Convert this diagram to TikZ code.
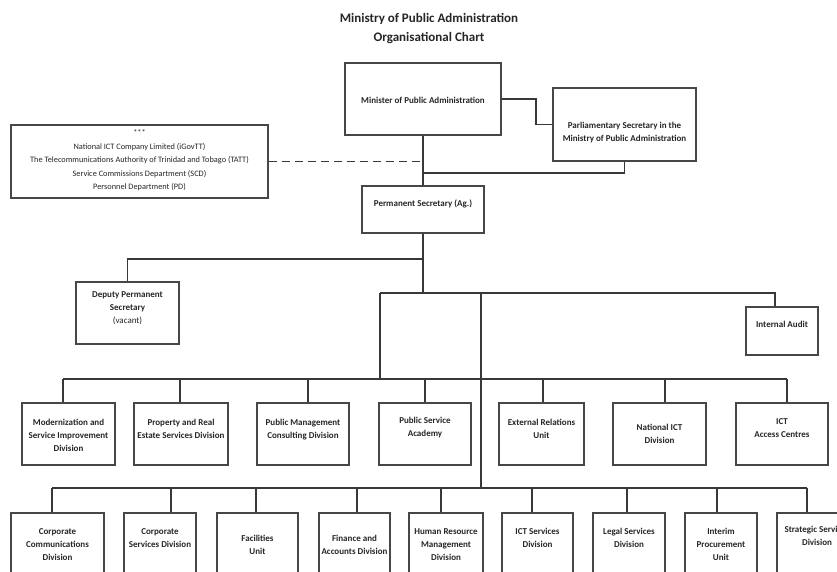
\documentclass[tikz,border=0pt]{standalone}
\usepackage{fontspec}
\setmainfont{Carlito}
\newcommand\obox[4]{\parbox[c][#2pt][t]{#1pt}{\centering\vspace*{#3pt}\makebox[0pt]{\begin{tabular}[t]{@{}c@{}}#4\end{tabular}}\par}}
\begin{document}
\begin{tikzpicture}[x=1pt,y=-1pt,
  line/.style={draw=black!78, line width=1.5pt},
  box/.style={draw=black!72, line width=1.5pt, inner sep=0pt, font=\fontsize{9}{13}\selectfont\bfseries, text=black!85},
  govbox/.style={box, font=\fontsize{8.3}{13.5}\selectfont\mdseries},
  titletext/.style={font=\fontsize{13}{19}\selectfont\bfseries, align=center, text=black!85}]
\fill[white] (0,0) rectangle (837,572);
\useasboundingbox (0,0) rectangle (837,572);

\node[titletext] (title) at (429,28.5) {Ministry of Public Administration\\Organisational Chart};

\node[box] (min) at (423,99) {\obox{156}{72}{31}{Minister of Public Administration}};
\node[box] (parl) at (624.5,124.5) {\obox{143}{73}{31}{Parliamentary Secretary in the\\Ministry of Public Administration}};
\node[govbox] (gov) at (139.5,161.5) {\obox{257}{73}{1.5}{***\\National ICT Company Limited (iGovTT)\\The Telecommunications Authority of Trinidad and Tobago (TATT)\\Service Commissions Department (SCD)\\Personnel Department (PD)}};
\node[box] (ps) at (423,209.5) {\obox{122}{47}{11}{Permanent Secretary (Ag.)}};
\node[box] (dep) at (127.5,313) {\obox{103}{62}{6}{Deputy Permanent\\Secretary\\{\mdseries (vacant)}}};
\node[box] (ia) at (782,331) {\obox{72}{48}{11}{Internal Audit}};

\node[box] (mod) at (68.5,434) {\obox{93}{62}{13}{Modernization and\\Service Improvement\\Division}};
\node[box] (prop) at (181,434) {\obox{94}{62}{13}{Property and Real\\Estate Services Division}};
\node[box] (pmc) at (303,434) {\obox{92}{62}{13}{Public Management\\Consulting Division}};
\node[box] (psa) at (425,434) {\obox{92}{62}{11}{Public Service\\Academy}};
\node[box] (eru) at (541.5,434) {\obox{85}{62}{13}{External Relations\\Unit}};
\node[box] (nict) at (659.5,434) {\obox{93}{62}{18}{National ICT\\Division}};
\node[box] (ictac) at (782,434) {\obox{92}{62}{12}{ICT\\Access Centres}};

\node[box] (cc) at (57.5,551.5) {\obox{93}{77}{12}{Corporate\\Communications\\Division}};
\node[box] (cs) at (160,551.5) {\obox{72}{77}{12}{Corporate\\Services Division}};
\node[box] (fac) at (257.5,551.5) {\obox{81}{77}{19}{Facilities\\Unit}};
\node[box] (fin) at (354.5,551.5) {\obox{71}{77}{19}{Finance and\\Accounts Division}};
\node[box] (hr) at (446,551.5) {\obox{74}{77}{12}{Human Resource\\Management\\Division}};
\node[box] (icts) at (537.5,551.5) {\obox{71}{77}{12}{ICT Services\\Division}};
\node[box] (leg) at (629,551.5) {\obox{72}{77}{12}{Legal Services\\Division}};
\node[box] (ipu) at (721,551.5) {\obox{72}{77}{12}{Interim\\Procurement\\Unit}};
\node[box] (ssd) at (817,551.5) {\obox{80}{77}{10}{Strategic Services\\Division}};

\coordinate (j1) at (423,173);
\coordinate (j2) at (423,259);
\coordinate (j3) at (423,293);
\coordinate (k1) at (380,293);
\coordinate (k2) at (481,293);
\coordinate (bus1) at (380,379);
\coordinate (bus2) at (481,488);

\draw[line] (min.south) -- (ps.north);
\draw[line, dash pattern=on 8pt off 5pt] (gov.east) -- (gov.east -| min.south);
\draw[line] (min.east) -- ++(34,0) |- (parl.west);
\draw[line] (parl.south) |- (j1);
\draw[line] (ps.south) -- (j3);
\draw[line] (dep.north) |- (j2);
\draw[line] (k1) -| ([xshift=-7pt]ia.north);
\draw[line] (k1) -- (bus1);
\draw[line] (k2) -- (bus2);

\draw[line] ([xshift=-5.5pt]mod.north |- bus1) -- ([xshift=5pt]ictac.north |- bus1);
\foreach \n/\dx in {mod/-5.5, prop/-1, pmc/5, psa/0, eru/1.5, nict/5.5, ictac/5}
  \draw[line] ([xshift=\dx pt]\n.north) -- ([xshift=\dx pt]\n.north |- bus1);

\draw[line] ([xshift=-5.5pt]cc.north |- bus2) -- ([xshift=-10pt]ssd.north |- bus2);
\foreach \n/\dx in {cc/-5.5, cs/11, fac/-1.5, fin/2.5, hr/-5, icts/-5.5, leg/-2, ipu/-4, ssd/-10}
  \draw[line] ([xshift=\dx pt]\n.north) -- ([xshift=\dx pt]\n.north |- bus2);
\end{tikzpicture}
\end{document}
